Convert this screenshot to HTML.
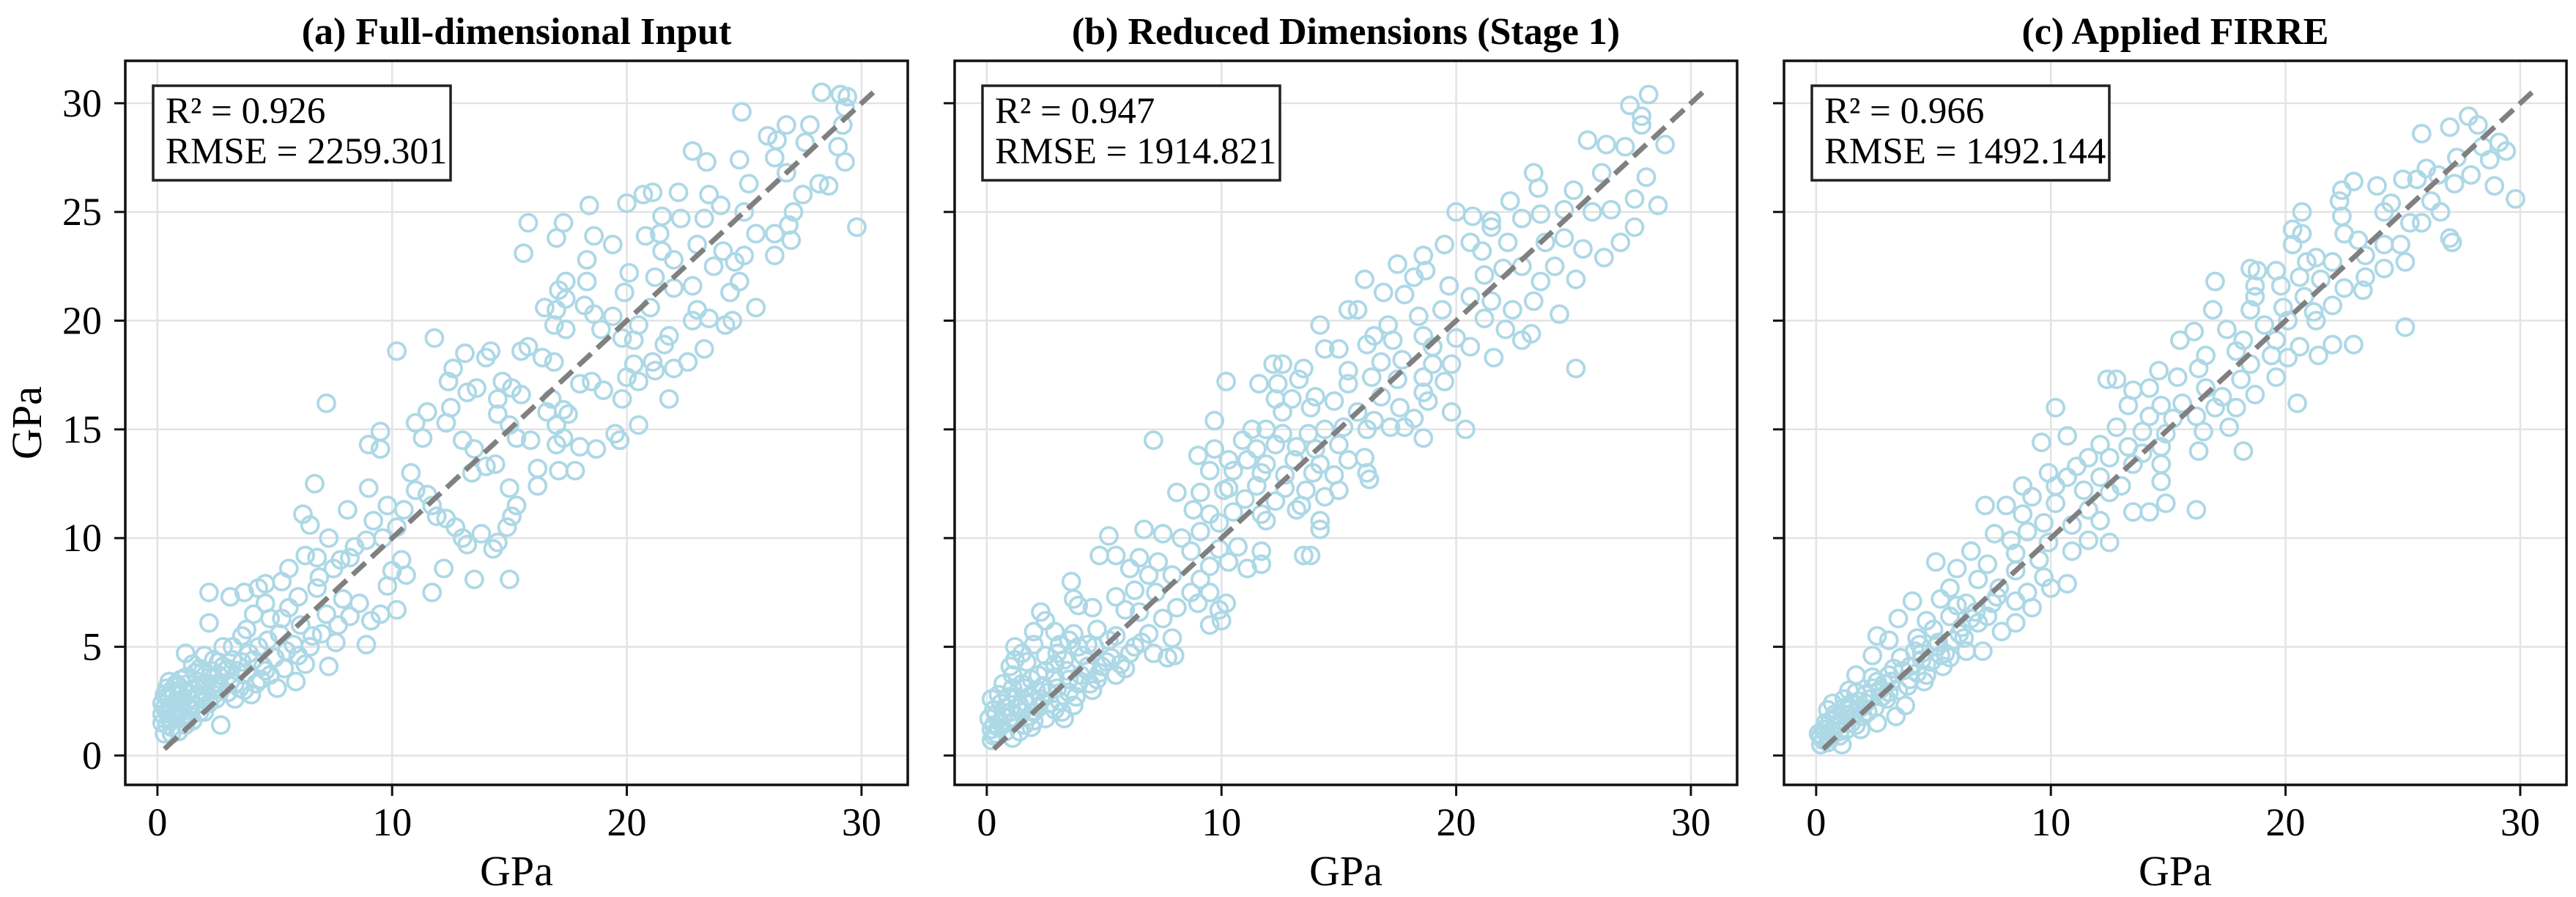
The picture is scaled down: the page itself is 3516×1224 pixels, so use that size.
<!DOCTYPE html>
<html><head><meta charset="utf-8"><style>
html,body{margin:0;padding:0;background:#fff;}
svg{display:block;font-family:"Liberation Serif",serif;}
</style></head><body>
<svg id="chart" width="3516" height="1224" viewBox="0 0 3516 1224" xmlns="http://www.w3.org/2000/svg"></svg>
<script>
const panelTitles = ["(a) Full-dimensional Input","(b) Reduced Dimensions (Stage 1)","(c) Applied FIRRE"];
const r2Values = ["0.926","0.947","0.966"];
const rmseValues = ["2259.301","1914.821","1492.144"];
const xTicks = [0,10,20,30];
const yTicks = [0,5,10,15,20,25,30];
const pointsA = [[28.3,30.5],[29.1,30.4],[29.4,30.3],[29.3,29.8],[29.2,29.0],[24.9,29.6],[26.0,28.5],[26.4,28.3],[26.8,29.0],[27.8,29.0],[27.6,28.2],[26.3,27.5],[29.0,28.0],[29.3,27.3],[28.2,26.3],[27.5,25.8],[28.6,26.2],[26.8,26.8],[25.2,26.3],[25.0,25.0],[26.3,24.0],[25.5,24.0],[27.1,25.0],[26.9,24.4],[27.0,23.7],[26.3,23.0],[29.8,24.3],[24.8,27.4],[22.8,27.8],[23.4,27.3],[21.1,25.9],[20.7,25.8],[20.0,25.4],[18.4,25.3],[22.2,25.9],[23.5,25.8],[24.0,25.3],[21.5,24.8],[22.3,24.7],[23.3,24.7],[21.4,24.0],[18.6,23.9],[17.3,24.5],[17.0,23.8],[15.8,24.5],[15.6,23.1],[19.4,23.5],[20.8,23.9],[21.5,23.2],[22.0,22.8],[23.0,23.5],[24.1,23.2],[24.6,22.7],[25.0,23.0],[23.7,22.5],[18.3,22.8],[20.1,22.2],[21.2,22.0],[22.0,21.5],[22.8,21.6],[24.8,21.8],[24.4,21.3],[25.5,20.6],[24.5,20.0],[24.2,19.8],[23.5,20.1],[23.0,20.5],[23.3,18.7],[22.6,18.1],[21.6,18.9],[21.8,19.3],[22.8,20.0],[21.0,20.6],[19.9,21.3],[18.3,21.8],[17.4,21.8],[17.1,21.4],[17.4,21.0],[16.5,20.6],[17.0,20.5],[16.9,19.8],[17.4,19.6],[18.6,20.3],[19.4,20.2],[20.5,19.8],[20.3,19.1],[19.8,19.2],[18.9,19.6],[18.2,20.7],[20.3,18.0],[21.1,18.1],[21.2,17.7],[22.0,17.8],[21.8,16.4],[20.5,17.2],[20.0,17.4],[19.8,16.4],[19.0,16.8],[18.5,17.2],[18.0,17.1],[16.4,18.3],[16.9,18.1],[15.5,18.6],[15.8,18.8],[14.2,18.6],[14.0,18.3],[13.1,18.5],[11.8,19.2],[10.2,18.6],[12.6,17.8],[12.4,17.2],[13.2,16.7],[13.6,16.9],[14.5,16.4],[14.7,17.2],[15.1,16.9],[15.5,16.6],[16.6,15.8],[16.8,16.4],[17.3,15.9],[17.5,15.7],[17.0,15.2],[17.3,14.6],[17.0,14.3],[18.0,14.2],[18.7,14.1],[19.5,14.8],[19.7,14.5],[20.5,15.2],[17.8,13.1],[17.1,13.1],[16.2,12.4],[16.2,13.2],[15.9,14.5],[15.3,14.6],[15.0,15.2],[14.5,15.7],[11.0,15.3],[11.5,15.8],[11.3,14.6],[12.3,15.3],[12.5,16.0],[13.0,14.5],[13.5,14.1],[13.4,13.0],[14.0,13.3],[14.4,13.4],[15.0,12.3],[15.3,11.5],[15.1,11.0],[14.9,10.5],[14.5,9.8],[14.3,9.5],[13.0,10.0],[13.2,9.7],[13.8,10.2],[12.7,10.5],[12.3,10.9],[11.9,11.0],[11.7,11.5],[11.5,12.0],[11.0,12.2],[10.5,11.3],[10.8,13.0],[9.0,14.3],[9.5,14.9],[9.5,14.1],[7.2,16.2],[6.7,12.5],[6.2,11.1],[6.5,10.6],[8.1,11.3],[9.0,12.3],[9.8,11.5],[9.2,10.8],[9.6,10.0],[10.2,10.5],[10.4,9.0],[10.0,8.5],[8.9,9.9],[8.4,9.6],[7.3,10.0],[7.8,9.0],[6.8,9.1],[6.3,9.2],[12.2,8.6],[11.7,7.5],[13.5,8.1],[15.0,8.1],[10.6,8.3],[9.8,7.8],[10.2,6.7],[9.5,6.5],[9.1,6.2],[8.9,5.1],[7.6,5.2],[7.3,4.1],[7.2,6.5],[6.8,7.7],[7.9,7.2],[8.6,7.0],[5.6,8.6],[5.3,8.0],[4.6,7.9],[4.3,7.7],[3.7,7.5],[2.2,7.5],[3.1,7.3],[4.1,6.5],[4.6,7.0],[5.3,6.3],[6.1,6.0],[6.6,5.5],[5.8,5.1],[5.0,4.5],[4.4,3.5],[5.9,3.4],[5.1,3.1],[6.3,4.2],[2.2,6.1],[3.6,5.5],[2.8,5.0],[2.0,4.6],[1.2,4.7],[1.5,4.2],[3.0,4.0],[3.8,3.8],[2.5,3.3],[3.3,2.6],[2.4,2.8],[1.8,3.2],[1.0,3.5],[0.5,3.4],[0.3,2.8],[0.8,2.5],[1.4,2.2],[2.0,2.0],[0.4,2.0],[0.2,1.5],[0.6,1.3],[0.3,1.0],[0.9,1.1],[1.5,1.6],[2.7,1.4],[4.0,2.8],[4.8,3.7],[5.5,4.8],[3.9,4.7],[2.6,4.3],[1.1,3.0],[0.7,1.8],[1.9,2.6],[3.5,3.1],[4.5,4.1],[0.2,2.4],[0.5,2.2],[0.9,2.9],[1.3,3.3],[1.7,2.8],[2.2,3.6],[2.9,3.9],[3.2,4.4],[0.4,3.1],[1.0,2.0],[1.6,3.8],[2.4,3.0],[0.6,1.0],[1.2,1.4],
[0.3,2.2],[0.5,2.6],[0.7,2.9],[0.9,3.2],[1.1,2.6],[1.3,2.9],[1.5,3.0],[1.7,3.4],[1.9,3.8],[2.1,3.3],[2.3,3.9],[2.6,3.7],[2.8,4.1],[3.1,3.4],[3.4,3.9],[3.6,4.3],[4.1,4.4],[4.3,5.0],[4.7,5.3],[5.2,5.6],[0.2,1.9],[0.4,2.7],[0.6,3.0],[0.8,2.1],[1.0,2.4],[1.2,3.6],[1.4,2.6],[1.6,2.3],[1.8,2.0],[2.0,2.9],[2.2,2.4],[2.5,2.6],[2.7,3.1],[3.0,2.9],[3.3,3.3],[3.7,3.0],[4.2,3.3],[4.6,3.9],[5.4,4.0],[6.0,4.6],[6.5,5.0],[7.0,5.6],[7.7,6.0],[8.2,6.4],[0.4,1.4],[0.6,2.3],[0.8,3.3],[1.0,1.7],[1.3,1.9],[0.5,1.7],[1.8,4.0],[2.4,4.4],[3.2,5.0],[3.8,5.8],[4.8,6.3],[5.6,6.8],[6.0,7.3],[6.9,8.2],[7.5,8.6],[8.2,9.1]];
const pointsB = [[28.2,30.4],[27.4,29.9],[27.9,29.4],[27.9,29.0],[28.9,28.1],[25.6,28.3],[26.4,28.1],[27.2,28.0],[23.3,26.8],[23.5,26.1],[25.0,26.0],[26.2,26.8],[28.1,26.6],[27.6,25.6],[28.6,25.3],[25.8,25.0],[26.6,25.1],[24.6,25.1],[23.6,24.9],[22.3,25.5],[22.8,24.7],[20.0,25.0],[20.7,24.8],[21.5,24.6],[21.5,24.3],[19.5,23.5],[20.6,23.6],[21.1,23.2],[22.2,23.6],[23.8,23.6],[24.6,23.8],[25.4,23.3],[26.3,22.9],[27.0,23.6],[27.6,24.3],[18.6,23.0],[17.5,22.6],[18.2,22.0],[18.7,22.3],[21.2,22.1],[22.0,22.4],[22.8,22.5],[23.6,21.8],[24.2,22.5],[25.1,21.9],[16.1,21.9],[16.9,21.3],[17.8,21.2],[19.7,21.6],[20.6,21.1],[21.5,20.9],[22.4,20.5],[23.3,20.9],[24.4,20.3],[15.4,20.5],[15.8,20.5],[18.4,20.2],[19.4,20.5],[21.2,20.1],[22.1,19.6],[22.8,19.1],[23.2,19.4],[21.6,18.3],[25.1,17.8],[14.2,19.8],[17.1,19.8],[16.5,19.3],[18.6,19.3],[20.0,19.2],[20.6,18.8],[14.4,18.7],[15.0,18.7],[16.2,18.9],[17.3,19.1],[19.0,18.8],[16.8,18.1],[17.7,18.2],[19.0,18.0],[19.8,18.0],[12.2,18.0],[12.6,18.0],[13.5,17.8],[15.4,17.7],[16.4,17.4],[17.5,17.3],[18.6,17.4],[19.5,17.2],[10.2,17.2],[11.6,17.1],[12.4,17.1],[13.3,17.3],[15.4,17.1],[16.8,16.5],[18.6,16.7],[12.3,16.4],[13.0,16.4],[14.0,16.5],[14.8,16.3],[18.8,16.3],[12.6,15.8],[13.8,16.0],[15.8,15.8],[16.5,15.4],[17.6,16.0],[18.2,15.5],[19.8,15.8],[9.7,15.4],[11.3,15.0],[11.9,15.0],[12.6,14.8],[13.7,14.8],[14.4,15.0],[15.2,15.1],[16.2,15.0],[17.2,15.1],[17.8,15.1],[20.4,15.0],[18.6,14.6],[7.1,14.5],[9.7,14.1],[10.9,14.5],[11.5,14.1],[12.3,14.3],[13.2,14.2],[14.0,14.1],[15.0,14.3],[9.0,13.8],[10.3,13.6],[11.1,13.6],[11.9,13.4],[13.1,13.6],[14.2,13.4],[15.4,13.6],[16.1,13.7],[9.5,13.1],[10.5,13.1],[11.7,13.0],[12.7,12.9],[13.9,13.0],[14.8,12.9],[16.2,13.0],[10.3,12.3],[11.5,12.4],[12.7,12.3],[13.6,12.2],[15.0,12.2],[16.3,12.7],[8.1,12.1],[9.1,12.1],[10.1,12.2],[11.0,11.8],[12.3,11.7],[13.4,11.5],[14.4,11.9],[8.8,11.3],[9.5,11.1],[10.5,11.2],[11.7,11.1],[13.2,11.3],[14.2,10.8],[11.9,10.8],[9.9,10.7],[14.2,10.4],[6.7,10.4],[7.5,10.2],[8.3,10.0],[9.1,10.3],[5.2,10.1],[4.8,9.2],[5.5,9.2],[6.5,9.1],[7.3,8.9],[8.7,9.4],[9.9,9.5],[10.7,9.6],[11.7,9.4],[13.5,9.2],[13.8,9.2],[9.5,8.7],[10.3,8.9],[11.1,8.6],[11.7,8.8],[6.1,8.6],[6.9,8.3],[7.9,8.3],[9.1,8.1],[3.6,8.0],[5.5,7.3],[6.3,7.6],[7.2,7.5],[8.7,7.5],[9.5,7.5],[10.2,7.0],[3.7,7.2],[3.9,6.9],[4.5,6.8],[5.9,6.7],[6.5,6.6],[8.1,6.8],[9.0,7.0],[9.9,6.7],[9.5,6.0],[10.0,6.2],[7.5,6.3],[2.3,6.6],[2.5,6.2],[2.0,5.7],[2.9,5.7],[3.7,5.6],[4.7,5.8],[5.5,5.5],[6.9,5.6],[7.9,5.4],[6.3,5.0],[7.1,4.7],[7.7,4.5],[8.0,4.6],[1.2,5.0],[1.2,4.4],[1.7,4.3],[2.5,4.6],[3.3,4.4],[4.3,4.1],[5.3,4.5],[5.9,4.0],[0.7,3.3],[1.1,3.7],[1.9,3.5],[2.9,3.6],[3.9,3.3],[4.7,3.5],[5.5,3.7],[0.2,2.6],[0.5,2.8],[1.3,2.7],[2.3,2.6],[3.1,2.5],[3.7,2.3],[4.5,3.0],[0.1,1.7],[0.7,1.8],[1.5,2.0],[2.5,1.7],[1.9,1.3],[1.1,0.8],[0.2,0.7],[0.5,1.3],[3.3,1.7],[2.9,2.1],[0.3,2.1],[1.7,2.4],[1.0,1.5],[2.1,3.0],[3.5,2.9],[4.3,3.9],[4.9,4.1],[3.9,5.0],[3.1,5.1],[2.5,3.9],[0.4,1.0],[0.8,2.2],[1.4,1.1],[2.0,2.0],[0.3,1.4],[1.6,3.1],
[0.2,1.2],[0.4,1.9],[0.6,2.4],[0.8,1.1],[1.0,2.0],[1.2,1.6],[1.4,2.3],[1.6,1.4],[1.8,2.7],[2.0,1.6],[2.2,2.2],[2.4,3.2],[2.7,2.4],[3.0,3.1],[3.2,2.0],[3.5,3.5],[3.8,2.7],[4.0,3.7],[4.4,3.3],[4.8,3.8],[5.1,4.3],[5.7,4.2],[6.1,4.7],[6.6,5.2],[0.3,0.9],[0.6,1.5],[0.9,2.7],[1.1,3.1],[1.3,2.2],[1.5,3.3],[1.8,1.8],[2.2,3.7],[2.6,2.9],[2.9,4.2],[3.4,3.9],[4.1,4.6],[4.6,5.0],[5.2,5.3],[1.0,4.1],[1.5,4.7],[2.0,5.1],[3.0,4.7],[3.5,5.3],[4.3,5.1]];
const pointsC = [[27.8,29.4],[27.0,28.9],[25.8,28.6],[28.2,29.0],[29.1,28.2],[29.4,27.8],[28.4,28.0],[28.7,27.4],[27.3,27.5],[27.9,26.7],[28.9,26.2],[29.8,25.6],[27.2,26.3],[26.0,27.0],[25.6,26.5],[26.5,26.7],[25.0,26.5],[23.9,26.2],[22.9,26.4],[22.4,26.0],[22.3,25.5],[24.5,25.4],[25.3,24.5],[25.8,24.5],[26.6,25.0],[26.2,25.5],[27.0,23.8],[27.1,23.6],[24.2,25.0],[20.7,25.0],[22.4,24.8],[20.3,24.2],[20.7,24.0],[22.5,24.0],[23.1,23.7],[20.3,23.5],[24.2,23.5],[24.9,23.5],[23.4,23.0],[25.1,22.7],[24.2,22.4],[21.3,22.9],[20.9,22.7],[22.0,22.7],[18.5,22.4],[18.8,22.3],[19.6,22.3],[20.6,22.0],[21.5,21.9],[23.4,22.0],[23.3,21.4],[22.5,21.5],[17.0,21.8],[18.7,21.6],[19.8,21.6],[20.8,21.1],[22.0,20.7],[18.7,21.1],[19.9,20.6],[21.2,20.4],[16.9,20.5],[18.5,20.5],[19.1,19.8],[20.1,20.0],[21.3,20.0],[25.1,19.7],[15.5,19.1],[16.1,19.5],[17.5,19.6],[18.2,19.1],[19.6,19.1],[20.6,18.8],[22.0,18.9],[22.9,18.9],[21.4,18.4],[16.6,18.4],[17.9,18.6],[19.4,18.4],[20.1,18.3],[16.3,17.8],[18.5,18.0],[19.6,17.4],[18.1,17.3],[12.4,17.3],[12.8,17.3],[14.6,17.7],[15.4,17.4],[13.5,16.8],[14.2,16.9],[16.6,16.9],[17.3,16.5],[18.7,16.6],[20.5,16.2],[10.2,16.0],[13.3,16.1],[14.7,16.1],[15.6,16.2],[17.0,16.0],[17.9,16.0],[14.2,15.6],[15.2,15.5],[16.2,15.6],[12.8,15.1],[13.9,14.9],[14.9,14.8],[16.5,14.9],[17.6,15.1],[10.7,14.7],[12.1,14.3],[13.3,14.2],[13.9,13.9],[14.7,14.2],[16.3,14.0],[18.2,14.0],[9.6,14.4],[11.6,13.7],[12.5,13.7],[13.5,13.4],[14.7,13.4],[11.1,13.3],[9.9,13.0],[10.7,12.8],[12.1,12.8],[13.0,12.4],[14.7,12.6],[8.8,12.4],[10.2,12.4],[11.4,12.2],[12.5,12.1],[9.2,11.9],[10.2,11.6],[7.2,11.5],[8.1,11.5],[13.5,11.2],[14.2,11.2],[14.9,11.6],[16.2,11.3],[11.6,11.3],[12.1,10.8],[10.9,10.6],[9.7,10.7],[8.8,11.1],[12.5,9.8],[11.6,9.9],[7.6,10.2],[8.3,9.9],[9.0,10.3],[9.9,9.8],[10.9,9.4],[8.5,9.3],[9.5,9.0],[6.6,9.4],[5.1,8.9],[6.0,8.6],[7.3,8.8],[8.5,8.5],[9.7,8.2],[10.7,7.9],[6.9,8.1],[5.7,7.7],[7.8,7.7],[9.0,7.5],[10.0,7.7],[5.3,7.2],[6.4,7.0],[4.1,7.1],[7.5,7.0],[8.5,7.1],[9.2,6.8],[3.5,6.3],[4.7,6.2],[5.7,6.4],[6.9,6.1],[7.9,5.7],[8.5,6.1],[2.6,5.5],[3.1,5.3],[4.3,5.4],[5.2,5.2],[6.3,5.4],[7.1,4.8],[2.4,4.6],[3.6,4.5],[4.5,4.4],[5.7,4.5],[1.7,3.7],[2.4,3.6],[3.1,3.7],[4.0,3.5],[4.7,3.7],[1.4,3.0],[2.1,2.8],[2.8,2.7],[3.4,1.8],[0.7,2.4],[1.2,1.9],[1.9,2.2],[0.4,1.5],[0.8,1.3],[1.7,1.4],[0.1,1.0],[0.6,0.8],[1.1,0.5],[0.2,0.5],[1.9,1.2],[2.6,1.5],[3.8,2.3],[4.6,3.4],[5.4,4.1],[6.4,4.8],[2.4,3.1],[1.2,2.6],[0.5,2.1],[0.3,1.2],[0.9,1.8],[1.5,2.4],[2.2,2.0],[2.9,3.3],[3.3,4.0],[4.2,4.8],[0.6,1.6],[1.0,1.1],[5.0,5.8],[6.0,6.9],
[0.2,0.9],[0.4,1.2],[0.5,0.6],[0.7,1.0],[0.9,1.4],[1.1,1.6],[1.3,1.2],[1.4,2.1],[1.6,1.8],[1.8,2.5],[2.0,1.8],[2.3,2.6],[2.5,2.2],[2.7,3.0],[3.0,2.6],[3.2,3.4],[3.5,3.0],[3.7,3.9],[4.0,4.1],[4.3,3.8],[4.5,4.7],[4.9,4.3],[5.1,5.0],[5.5,4.7],[5.8,5.3],[6.2,5.9],[6.6,6.3],[0.3,0.7],[0.6,1.1],[0.8,1.9],[1.0,0.9],[1.2,2.2],[1.5,1.5],[1.7,2.9],[2.1,2.4],[2.6,3.4],[3.1,2.9],[3.9,3.2],[4.4,5.1],[5.3,4.6],[6.1,5.6],[6.8,6.6],[7.3,6.4],[7.7,7.3]];
const allPoints = [pointsA, pointsB, pointsC];

const NS = "http://www.w3.org/2000/svg";
const svg = document.getElementById("chart");
const PANEL_LEFT = 171, PANEL_STEP = 1132, PANEL_W = 1068, PANEL_TOP = 83, PANEL_H = 988;
const XMIN = -1.37, XMAX = 31.97, YMIN = -1.35, YMAX = 31.95;
function mk(tag, attrs, parent) {
  const e = document.createElementNS(NS, tag);
  for (const k in attrs) e.setAttribute(k, attrs[k]);
  (parent || svg).appendChild(e);
  return e;
}
panelTitles.forEach((title, i) => {
  const left = PANEL_LEFT + i * PANEL_STEP;
  const sx = v => left + (v - XMIN) / (XMAX - XMIN) * PANEL_W;
  const sy = v => PANEL_TOP + PANEL_H - (v - YMIN) / (YMAX - YMIN) * PANEL_H;
  const g = mk("g", {});
  
  
  xTicks.forEach(t => {
    const l = mk("line", {x1: sx(t), x2: sx(t), y1: PANEL_TOP, y2: PANEL_TOP + PANEL_H, stroke: "#e3e3e3", "stroke-width": 2.5}, g);
    
    
  });
  yTicks.forEach(t => {
    const l = mk("line", {x1: left, x2: left + PANEL_W, y1: sy(t), y2: sy(t), stroke: "#e3e3e3", "stroke-width": 2.5}, g);
    
    
  });
  const pg = mk("g", {}, g);
  
  
  allPoints[i].forEach(p => {
    const c = mk("circle", {cx: sx(p[0]), cy: sy(p[1]), r: 11.5, fill: "none", stroke: "#add8e6", "stroke-width": 3.8}, pg);
    
    
  });
  const d = mk("line", {x1: sx(0.3), y1: sy(0.3), x2: sx(30.5), y2: sy(30.5), stroke: "#808080", "stroke-width": 7, "stroke-dasharray": "24 11"}, g);
  
  
  const fr = mk("rect", {x: left, y: PANEL_TOP, width: PANEL_W, height: PANEL_H, fill: "none", stroke: "#111", "stroke-width": 3.5}, g);
  
  
  xTicks.forEach(t => {
    const l = mk("line", {x1: sx(t), x2: sx(t), y1: PANEL_TOP + PANEL_H, y2: PANEL_TOP + PANEL_H + 15, stroke: "#111", "stroke-width": 3}, g);
    
    
    const tx = mk("text", {x: sx(t), y: 1140, "text-anchor": "middle", "font-size": 54, fill: "#000"}, g);
    tx.textContent = t;
    
    
  });
  yTicks.forEach(t => {
    const l = mk("line", {x1: left - 15, x2: left, y1: sy(t), y2: sy(t), stroke: "#111", "stroke-width": 3}, g);
    
    
    if (i === 0) {
      const tx = mk("text", {x: left - 32, y: sy(t) + 18, "text-anchor": "end", "font-size": 54, fill: "#000"}, g);
      tx.textContent = t;
      
      
    }
  });
  const tt = mk("text", {x: left + PANEL_W / 2, y: 60, "text-anchor": "middle", "font-size": 52, "font-weight": "bold", fill: "#000"}, g);
  tt.textContent = title;
  
  
  const xl = mk("text", {x: left + PANEL_W / 2, y: 1208, "text-anchor": "middle", "font-size": 58, fill: "#000"}, g);
  xl.textContent = "GPa";
  
  
  const bx = mk("rect", {x: left + 38, y: 117, width: 406, height: 129, fill: "#fff", stroke: "#222", "stroke-width": 3.5}, g);
  
  
  const t1 = mk("text", {x: left + 55, y: 168, "font-size": 51, fill: "#000"}, g);
  t1.textContent = "R\u00b2 = " + r2Values[i];
  
  
  const t2 = mk("text", {x: left + 55, y: 223, "font-size": 51, fill: "#000"}, g);
  t2.textContent = "RMSE = " + rmseValues[i];
  
  
});
const yl = mk("text", {x: 0, y: 0, "text-anchor": "middle", "font-size": 58, fill: "#000", transform: "translate(56,577) rotate(-90)"});
yl.textContent = "GPa";


</script>
</body></html>
